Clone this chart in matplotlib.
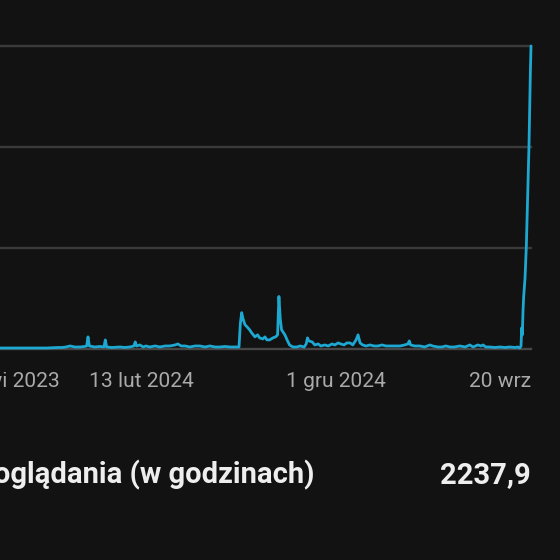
import datetime as dt
import matplotlib
matplotlib.use("Agg")
import matplotlib.pyplot as plt
import matplotlib.dates as mdates

# ---- data ----
start_date = dt.date(2023, 4, 26)
day_offsets = [0, 30, 60, 90, 120, 150, 167, 173, 179, 185, 192, 200, 207, 210, 212, 214,
               222, 230, 236, 238, 240, 248, 260, 267, 275, 281, 283, 285, 290, 295, 299,
               305, 313, 320, 328, 335, 343, 347, 352, 358, 365, 373, 380, 388, 395, 403,
               410, 418, 425, 433, 439, 441, 443, 445, 448, 451, 455, 458, 463, 467, 470,
               475, 478, 481, 485, 490, 494, 497, 499, 501, 503, 508, 512, 515, 520, 526,
               531, 537, 540, 542, 544, 549, 553, 558, 562, 568, 573, 579, 583, 588, 592,
               597, 601, 606, 610, 615, 618, 621, 625, 630, 636, 642, 648, 654, 660, 666,
               673, 681, 688, 693, 695, 697, 703, 711, 718, 726, 730, 738, 744, 750, 756,
               763, 771, 779, 786, 791, 798, 803, 806, 810, 816, 824, 831, 839, 846, 854,
               858, 861, 863, 864, 865, 866, 867, 869, 871, 873, 875, 876, 877, 878]
watch_hours = [1, 1, 1, 1, 1, 1, 1.5, 1.5, 2, 3, 2, 2, 2.5, 3, 12, 3,
               2, 2.5, 2, 9, 2, 1.5, 2, 1.5, 2, 3, 7, 3, 4, 2, 3,
               2, 3, 2, 3, 3, 4, 5, 3, 3, 2, 3, 3, 2, 3, 2,
               2, 2.5, 2, 2, 2, 25, 36, 30, 24, 22, 19, 16, 12, 14, 11,
               10, 12, 9, 9, 11, 12, 14, 52, 30, 19, 14, 8, 4, 2, 2,
               3, 2, 5, 11, 8, 7, 4, 5, 3, 4, 3, 5, 4, 6, 5,
               4, 6, 6, 4, 9, 14, 6, 4, 3, 4, 3, 3, 4, 3, 3,
               3, 3, 4, 5, 8, 4, 3, 3, 2, 4, 3, 2, 2, 3, 2,
               2, 3, 2, 4, 2, 4, 3, 4, 2, 2, 1.5, 2, 1.5, 2, 1.5,
               2, 1, 3, 21, 14, 38, 52, 70, 102, 150, 202, 240, 272, 300]
grid_values = [0, 100, 200, 300]
tick_dates = [dt.date(2023, 4, 26), dt.date(2024, 2, 13), dt.date(2024, 12, 1), dt.date(2025, 9, 20)]
tick_labels = ["26 kwi 2023", "13 lut 2024", "1 gru 2024", "20 wrz"]
metric_label = "Czas oglądania (w godzinach)"
metric_value = "2237,9"

dates = [start_date + dt.timedelta(days=d) for d in day_offsets]

BG = "#121212"
W, H = 560, 560
fig = plt.figure(figsize=(W / 100, H / 100), dpi=100, facecolor=BG)

# axes placed in pixel terms
left_px, right_px, top_px, base_px = -53, 531, 46, 349
ax = fig.add_axes([left_px / W, (H - base_px) / H, (right_px - left_px) / W, (base_px - top_px) / H])
ax.set_facecolor(BG)
for s in ax.spines.values():
    s.set_visible(False)
ax.set_xlim(mdates.date2num(tick_dates[0]), mdates.date2num(tick_dates[-1]))
ax.set_ylim(grid_values[0], grid_values[-1])
ax.set_xticks([])
ax.set_yticks([])

for gv in grid_values:
    ax.axhline(gv, color="#3a3a3a" if gv else "#474747", lw=1.7, zorder=1, clip_on=False)

ax.plot(mdates.date2num(dates), watch_hours, color="#1da8d2", lw=2.0, zorder=3,
        clip_on=False, solid_joinstyle="round", solid_capstyle="round")

tf = ax.get_xaxis_transform()
label_y = -(387 - base_px) / (base_px - top_px)
for i, (d, lab) in enumerate(zip(tick_dates, tick_labels)):
    ha = "left" if i == 0 else ("right" if i == len(tick_dates) - 1 else "center")
    ax.text(mdates.date2num(d), label_y, lab, transform=tf, ha=ha, va="baseline",
            color="#aaaaaa", fontsize=15.1, family="Roboto")

fig.text(314 / W, (H - 483) / H, metric_label, ha="right", va="baseline",
         color="#eeeeee", fontsize=21, family="Roboto", fontweight="bold")
fig.text(531 / W, (H - 483) / H, metric_value, ha="right", va="baseline",
         color="#eeeeee", fontsize=21, family="Roboto", fontweight="bold")

fig.savefig("out.png", dpi=100, facecolor=BG)
